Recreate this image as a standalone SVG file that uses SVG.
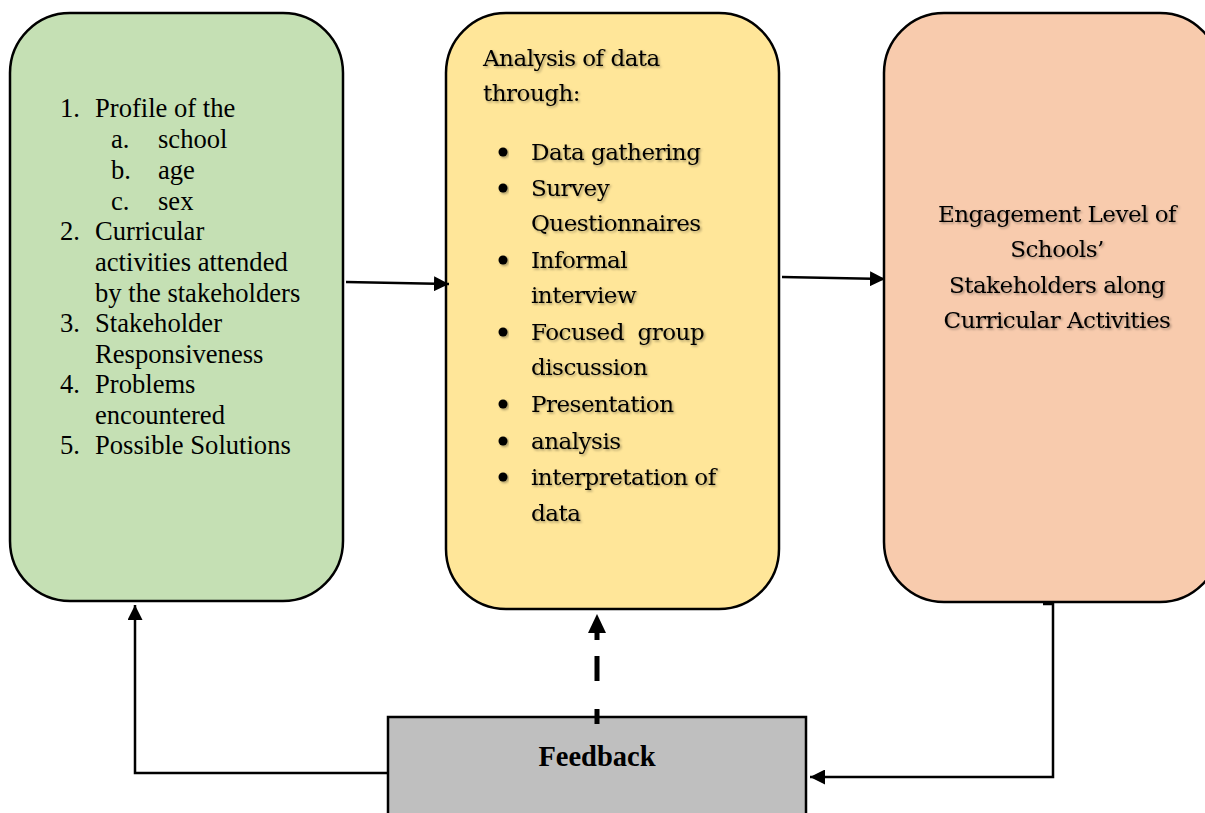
<svg xmlns="http://www.w3.org/2000/svg" width="1205" height="813" viewBox="0 0 1205 813">
  <style>
    .box { stroke: #000; stroke-width: 2.5; }
    .times { font-family: "Liberation Serif", "Times New Roman", serif; font-size: 26.6px; fill: #000; }
    .cam { font-family: "DejaVu Serif", "Liberation Serif", serif; font-size: 23px; letter-spacing: -0.5px; fill: #000; filter: url(#soft); }
    .fb { font-family: "Liberation Serif", "Times New Roman", serif; font-size: 28.5px; font-weight: bold; fill: #000; }
    .wire { fill: none; stroke: #000; stroke-width: 2.5; }
    .dash { fill: none; stroke: #000; stroke-width: 5; }
  </style>
  <defs>
    <filter id="soft" x="-10%" y="-30%" width="120%" height="160%">
      <feDropShadow dx="1.5" dy="1.5" stdDeviation="1" flood-color="#000" flood-opacity="0.35"/>
    </filter>
    <marker id="head" viewBox="0 0 10 10" refX="10" refY="5" markerWidth="6" markerHeight="6" markerUnits="strokeWidth" orient="auto">
      <path d="M0 0 L10 5 L0 10 Z" fill="#000"/>
    </marker>
  </defs>

  <!-- input block -->
  <g id="inputs">
    <rect class="box" x="10" y="13" width="333" height="588" rx="60" ry="60" fill="#c5e0b4"/>
    <g class="times">
      <text x="60" y="117">1.</text><text x="95" y="117">Profile of the</text>
      <text x="111" y="148">a.</text><text x="158" y="148">school</text>
      <text x="111" y="179">b.</text><text x="158" y="179">age</text>
      <text x="111" y="210">c.</text><text x="158" y="210">sex</text>
      <text x="60" y="240">2.</text><text x="95" y="240">Curricular</text>
      <text x="95" y="271">activities attended</text>
      <text x="95" y="302">by the stakeholders</text>
      <text x="60" y="332">3.</text><text x="95" y="332">Stakeholder</text>
      <text x="95" y="363">Responsiveness</text>
      <text x="60" y="393">4.</text><text x="95" y="393">Problems</text>
      <text x="95" y="424">encountered</text>
      <text x="60" y="454">5.</text><text x="95" y="454">Possible Solutions</text>
    </g>
  </g>

  <!-- process block -->
  <g id="process">
    <rect class="box" x="446" y="13" width="333" height="596" rx="60" ry="60" fill="#ffe699"/>
    <g class="cam">
      <text x="483" y="66">Analysis of data</text>
      <text x="483" y="101">through:</text>
      <text x="531" y="160">Data gathering</text>
      <text x="531" y="196">Survey</text>
      <text x="531" y="231">Questionnaires</text>
      <text x="531" y="268">Informal</text>
      <text x="531" y="303">interview</text>
      <text x="531" y="340" xml:space="preserve">Focused  group</text>
      <text x="531" y="375">discussion</text>
      <text x="531" y="412">Presentation</text>
      <text x="531" y="449">analysis</text>
      <text x="531" y="485">interpretation of</text>
      <text x="531" y="521">data</text>
    </g>
    <g fill="#000" filter="url(#soft)">
      <circle cx="503" cy="152" r="4.5"/>
      <circle cx="503" cy="188" r="4.5"/>
      <circle cx="503" cy="260" r="4.5"/>
      <circle cx="503" cy="332" r="4.5"/>
      <circle cx="503" cy="404" r="4.5"/>
      <circle cx="503" cy="441" r="4.5"/>
      <circle cx="503" cy="477" r="4.5"/>
    </g>
  </g>

  <!-- output block -->
  <g id="output">
    <rect class="box" x="884" y="13" width="336" height="589" rx="60" ry="60" fill="#f8cbad"/>
    <g class="cam" text-anchor="middle">
      <text x="1057" y="222">Engagement Level of</text>
      <text x="1057" y="257">Schools’</text>
      <text x="1057" y="293">Stakeholders along</text>
      <text x="1057" y="328">Curricular Activities</text>
    </g>
  </g>

  <!-- feedback block -->
  <g id="feedback">
    <rect class="box" x="388" y="717" width="418" height="110" fill="#bfbfbf"/>
    <text class="fb" x="597" y="766" text-anchor="middle">Feedback</text>
  </g>

  <!-- connectors -->
  <g id="connectors">
    <line class="wire" x1="346" y1="282" x2="449" y2="284" marker-end="url(#head)"/>
    <line class="wire" x1="782" y1="277" x2="885" y2="279" marker-end="url(#head)"/>
    <polyline class="wire" points="388,773 135,773 135,605" marker-end="url(#head)"/>
    <path class="wire" d="M1043 604 H1053"/>
    <polyline class="wire" points="1053,602 1053,777 810,777" marker-end="url(#head)"/>
    <path class="dash" d="M597 724 V709 M597 681 V656 M597 640 V630"/>
    <path d="M597 614 L606 633 L588 633 Z" fill="#000"/>
  </g>
</svg>
